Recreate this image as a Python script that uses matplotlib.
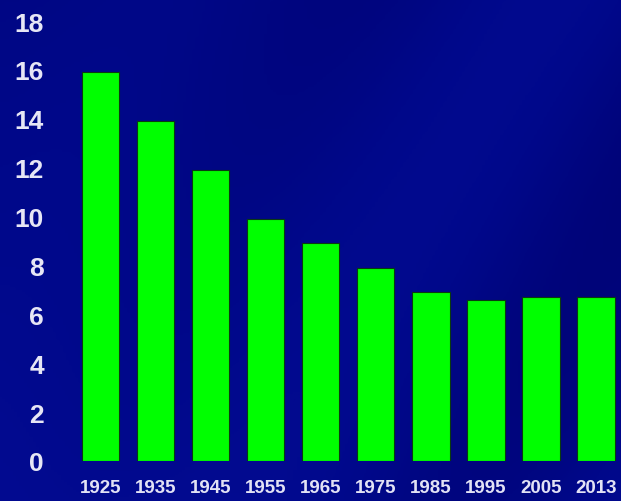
import numpy as np
import matplotlib.pyplot as plt
from matplotlib.colors import LinearSegmentedColormap

years = ['1925', '1935', '1945', '1955', '1965', '1975', '1985', '1995', '2005', '2013']
values = [15.9, 13.9, 11.9, 9.9, 8.9, 7.9, 6.9, 6.6, 6.7, 6.7]
y_ticks = [0, 2, 4, 6, 8, 10, 12, 14, 16, 18]

fig = plt.figure(figsize=(6.21, 5.02), dpi=100)

# background: dark blue with soft streaks
bg = fig.add_axes([0, 0, 1, 1])
bg.set_axis_off()
yy, xx = np.mgrid[0:1:200j, 0:1:200j]
shade = 0.6 + 0.12 * np.sin(9 * (xx + 0.5 * yy)) * xx + 0.15 * (1 - xx) * yy
cmap = LinearSegmentedColormap.from_list('bluebg', ['#000066', '#00088a', '#0a12a2'])
bg.imshow(shade, cmap=cmap, aspect='auto', extent=[0, 1, 0, 1], vmin=0.3, vmax=1.0)
bg.set_xlim(0, 1)
bg.set_ylim(0, 1)

ax = fig.add_axes([73 / 621, 40 / 502, 548 / 621, 440 / 502])
ax.patch.set_alpha(0)
x = np.arange(len(years))
ax.bar(x, values, width=0.68, color='#00ff00', edgecolor='#0a3a10', linewidth=0.8)
ax.set_xlim(-0.5, 9.455)
ax.set_ylim(0, 18)
for s in ax.spines.values():
    s.set_visible(False)
ax.set_xticks(x)
ax.set_xticklabels(years, fontsize=13.5, fontweight='bold', color='#e2e2f5',
                   family='Liberation Sans')
ax.set_yticks(y_ticks)
ax.set_yticklabels([str(t) for t in y_ticks], fontsize=19, fontweight='bold', color='#e6e6f5',
                   family='Liberation Sans')
ax.tick_params(axis='both', length=0)
ax.tick_params(axis='y', pad=21)
ax.tick_params(axis='x', pad=13)

fig.savefig('out.png', dpi=100)
